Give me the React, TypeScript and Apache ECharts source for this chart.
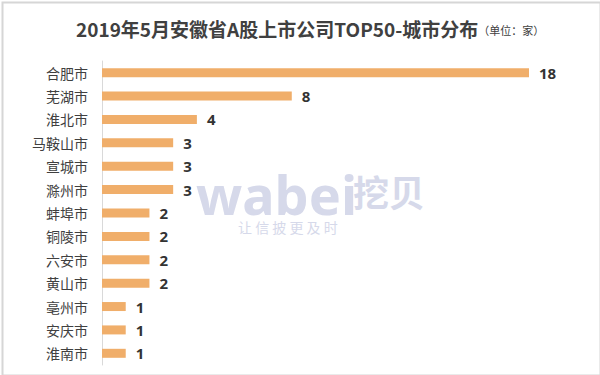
import React, { useEffect, useRef } from "react";
import * as echarts from "echarts";

const cities = ["合肥市", "芜湖市", "淮北市", "马鞍山市", "宣城市", "滁州市", "蚌埠市", "铜陵市", "六安市", "黄山市", "亳州市", "安庆市", "淮南市"];
const counts = [18, 8, 4, 3, 3, 3, 2, 2, 2, 2, 1, 1, 1];

export default function App() {
  const ref = useRef<HTMLDivElement>(null);
  useEffect(() => {
    document.body.style.margin = "0";
    const chart = echarts.init(ref.current!, null, { renderer: "svg" });
    const wm = "#d6d9ea";
    chart.setOption({
      animation: false,
      backgroundColor: "#ffffff",
      title: {
        text: "2019年5月安徽省A股上市公司TOP50-城市分布{u|（单位：家）}",
        left: 71,
        top: 14,
        textStyle: {
          fontFamily: "Noto Sans CJK SC",
          fontSize: 19,
          fontWeight: "bold",
          color: "#404040",
          rich: {
            u: { fontSize: 11, fontWeight: "normal", color: "#404040", fontFamily: "Noto Sans CJK SC", padding: [3, 0, 0, 0] },
          },
        },
      },
      graphic: [
        {
          type: "rect",
          left: 0,
          top: 0,
          shape: { width: 598, height: 373 },
          style: { fill: "none", stroke: "#d6d6d6", lineWidth: 2 },
          z: 100,
        },
        {
          type: "text",
          x: 196,
          y: 172,
          style: {
            text: "wabei",
            font: "bold 54px 'Noto Sans', sans-serif",
            lineHeight: 44,
            fill: wm,
          },
          z: 0,
        },
        {
          type: "text",
          x: 353,
          y: 173,
          style: {
            text: "挖贝",
            font: "bold 36px 'Noto Sans CJK SC'",
            fill: wm,
          },
          z: 0,
        },
        {
          type: "text",
          x: 238,
          y: 220,
          style: {
            text: "让 信 披 更 及 时",
            font: "14px 'Noto Sans CJK SC'",
            fill: wm,
          },
          z: 0,
        },
      ],
      grid: { left: 102, top: 61, width: 427, height: 304, containLabel: false },
      xAxis: {
        type: "value",
        min: 0,
        max: 18,
        show: false,
      },
      yAxis: {
        type: "category",
        data: cities,
        inverse: true,
        axisLine: { show: true, lineStyle: { color: "#d9d9d9", width: 1 } },
        axisTick: { show: false },
        axisLabel: {
          fontFamily: "Noto Sans CJK SC",
          fontSize: 14,
          color: "#404040",
          margin: 14,
        },
      },
      series: [
        {
          type: "bar",
          data: counts,
          barWidth: 9,
          itemStyle: { color: "#f0ae6a" },
          label: {
            show: true,
            position: "right",
            distance: 10,
            fontFamily: "Noto Sans",
            fontWeight: "bold",
            fontSize: 15,
            color: "#333333",
          },
          z: 2,
        },
      ],
    });
    return () => chart.dispose();
  }, []);
  return <div ref={ref} style={{ position: "absolute", left: 0, top: 0, width: 600, height: 375 }} />;
}
